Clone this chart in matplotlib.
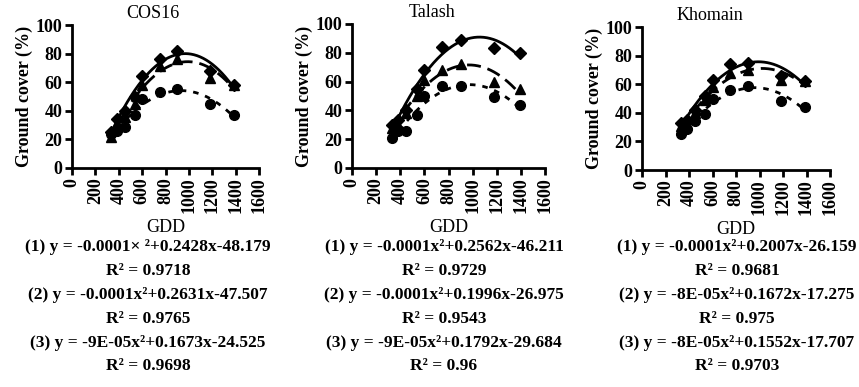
import numpy as np
import matplotlib
matplotlib.use("Agg")
import matplotlib.pyplot as plt

plt.rcParams['font.family'] = ['Liberation Serif', 'DejaVu Serif']

gdd = [330, 385, 450, 535, 600, 750, 900, 1180, 1390]

panels = ["COS16", "Talash", "Khomain"]

cos16_s1 = [25, 34, 40, 50, 64, 76, 82, 68, 58]
cos16_s2 = [22, 31, 36, 45, 58, 71, 76, 63, 58]
cos16_s3 = [24, 26, 29, 37, 48, 53, 55, 45, 37]

talash_s1 = [30, 33, 40, 55, 68, 84, 89, 83, 80]
talash_s2 = [28, 30, 38, 50, 61, 68, 72, 60, 55]
talash_s3 = [21, 26, 26, 37, 50, 57, 57, 49, 44]

khomain_s1 = [33, 35, 42, 52, 63, 74, 75, 66, 62]
khomain_s2 = [31, 32, 40, 49, 58, 68, 70, 63, 62]
khomain_s3 = [25, 29, 34, 39, 50, 56, 59, 48, 44]

equations = [
    ["(1) y = -0.0001\u00d7 \u00b2+0.2428x-48.179", "R\u00b2 = 0.9718",
     "(2) y = -0.0001x\u00b2+0.2631x-47.507", "R\u00b2 = 0.9765",
     "(3) y = -9E-05x\u00b2+0.1673x-24.525", "R\u00b2 = 0.9698"],
    ["(1) y = -0.0001x\u00b2+0.2562x-46.211", "R\u00b2 = 0.9729",
     "(2) y = -0.0001x\u00b2+0.1996x-26.975", "R\u00b2 = 0.9543",
     "(3) y = -9E-05x\u00b2+0.1792x-29.684", "R\u00b2 = 0.96"],
    ["(1) y = -0.0001x\u00b2+0.2007x-26.159", "R\u00b2 = 0.9681",
     "(2) y = -8E-05x\u00b2+0.1672x-17.275", "R\u00b2 = 0.975",
     "(3) y = -8E-05x\u00b2+0.1552x-17.707", "R\u00b2 = 0.9703"],
]

data = [
    [cos16_s1, cos16_s2, cos16_s3],
    [talash_s1, talash_s2, talash_s3],
    [khomain_s1, khomain_s2, khomain_s3],
]

W, H = 859, 387
fig = plt.figure(figsize=(W / 100, H / 100), dpi=100)

axes_px = [(72, 25, 259, 168), (352, 24, 545, 168), (642, 27, 830, 170)]
title_x = [0.43, 0.415, 0.36]
text_cx = [148, 444, 737]
row_y = [247, 271, 295, 319, 343, 366]

markers = ['D', '^', 'o']
styles = ['-', (0, (5, 2.5)), (0, (2, 2.5))]

x = np.array(gdd, dtype=float)
for i, (l, t, r, b) in enumerate(axes_px):
    ax = fig.add_axes([l / W, 1 - b / H, (r - l) / W, (b - t) / H])
    for j, ys in enumerate(data[i]):
        y = np.array(ys, dtype=float)
        coef = np.polyfit(x, y, 2)
        xx = np.linspace(x.min(), x.max(), 200)
        ax.plot(xx, np.polyval(coef, xx), color='black', lw=2.0, linestyle=styles[j])
        ax.plot(x, y, linestyle='none', marker=markers[j], color='black',
                markersize=7 if markers[j] != 'D' else 6.5)
    ax.set_xlim(0, 1600)
    ax.set_ylim(0, 100)
    ax.set_xticks(np.arange(0, 1601, 200))
    ax.set_yticks(np.arange(0, 101, 20))
    for s in ['top', 'right']:
        ax.spines[s].set_visible(False)
    for s in ['left', 'bottom']:
        ax.spines[s].set_linewidth(2)
    ax.tick_params(width=2, length=5, labelsize=13, pad=2)
    for lab in ax.get_xticklabels():
        lab.set_rotation(90)
        lab.set_fontweight('bold')
    for lab in ax.get_yticklabels():
        lab.set_fontweight('bold')
    ax.set_ylabel("Ground cover (%)", fontsize=13, fontweight='bold', labelpad=2)
    ax.set_xlabel("GDD", fontsize=13, labelpad=4)
    ax.text(title_x[i], 1.08, panels[i], transform=ax.transAxes,
            ha='center', va='center', fontsize=13)
    for k, line in enumerate(equations[i]):
        fig.text(text_cx[i] / W, 1 - row_y[k] / H, line, ha='center', va='center',
                 fontsize=12.5, fontweight='bold')

fig.savefig("out.png", dpi=100)
